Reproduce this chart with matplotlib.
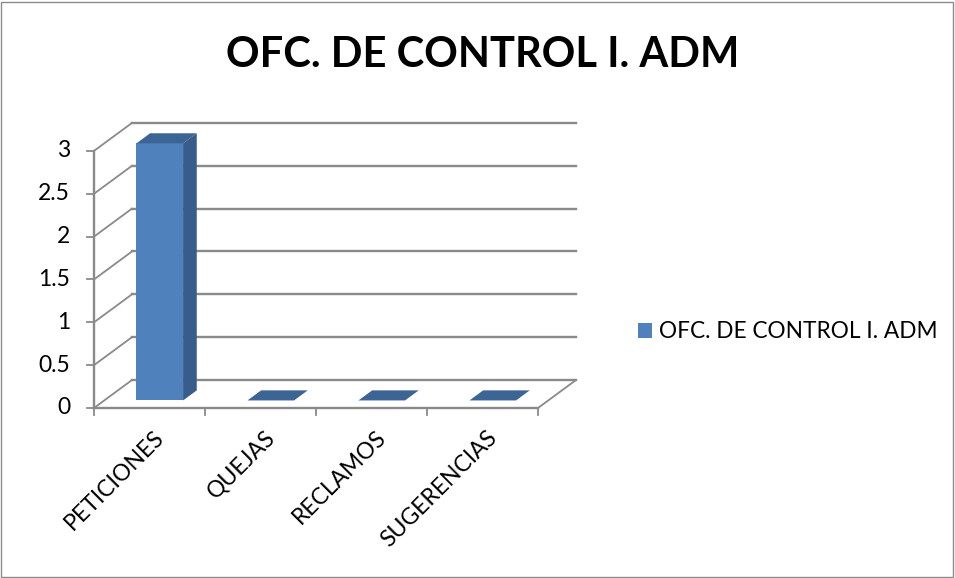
import matplotlib.pyplot as plt
from matplotlib.patches import Polygon, Rectangle

plt.rcParams['font.family'] = ['Lato', 'DejaVu Sans']

# datos
categorias = ["PETICIONES", "QUEJAS", "RECLAMOS", "SUGERENCIAS"]
valores = [3, 0, 0, 0]
serie = "OFC. DE CONTROL I. ADM"
y_ticks = [0, 0.5, 1, 1.5, 2, 2.5, 3]
y_labels = ["0", "0.5", "1", "1.5", "2", "2.5", "3"]

# escala: 1 categoria = 111 px, 1 unidad = 85.7 px, origen en (94, 408)
PX_X, PX_Y = 111.0, 85.7
X0, Y0 = 94.0, 408.0
W, H = 955, 578
DX, DY = 38 / PX_X, 28 / PX_Y      # profundidad de la pared
n = len(categorias)
ymax = y_ticks[-1]

fig = plt.figure(figsize=(W / 100, H / 100), dpi=100)
ax = fig.add_axes([0, 0, 1, 1])
ax.set_xlim(-X0 / PX_X, (W - X0) / PX_X)
ax.set_ylim((Y0 - H) / PX_Y, Y0 / PX_Y)
ax.axis('off')

grid = '#8a8a8a'
# pared trasera y lateral
for v in y_ticks:
    ax.plot([DX, n + DX], [v + DY, v + DY], color=grid, lw=1.7, zorder=1)
    ax.plot([0, DX], [v, v], color=grid, lw=0, zorder=1)
    ax.plot([0, DX], [v, v + DY], color=grid, lw=1.3, zorder=1)
    ax.plot([-0.065, 0], [v, v], color=grid, lw=1.3, zorder=1)
# piso
ax.plot([0, n], [0, 0], color=grid, lw=1.7, zorder=1)
ax.plot([n, n + DX], [0, DY], color=grid, lw=1.3, zorder=1)
ax.plot([0, 0], [0, ymax], color=grid, lw=1.7, zorder=1)
for i in range(n + 1):
    ax.plot([i, i], [0, -0.08], color=grid, lw=1.3, zorder=1)

# barras 3D
ancho = 0.42
d0, prof = 0.27, 0.36
ox, oy = d0 * DX, d0 * DY
bx, by = prof * DX, prof * DY
pos = [i + 0.5 for i in range(n)]
ax.bar([p + ox for p in pos], valores, ancho, bottom=oy,
       color='#4f81bd', edgecolor='none', zorder=3)
for p, v in zip(pos, valores):
    l, r = p + ox - ancho / 2, p + ox + ancho / 2
    if v > 0:
        ax.add_patch(Polygon([(r, oy), (r, v + oy), (r + bx, v + oy + by), (r + bx, oy + by)],
                             closed=True, facecolor='#375d8b', edgecolor='none', zorder=3))
    ax.add_patch(Polygon([(l, v + oy), (r, v + oy), (r + bx, v + oy + by), (l + bx, v + oy + by)],
                         closed=True, facecolor='#3c6595', edgecolor='none', zorder=3))

# etiquetas
for v, t in zip(y_ticks, y_labels):
    ax.text(-24 / PX_X, v, t, ha='right', va='center', fontsize=16.5, color='black')
for p, c in zip(pos, categorias):
    ax.text(p + 0.03, -0.22, c, rotation=45, rotation_mode='anchor',
            ha='right', va='top', fontsize=16.5, color='black')

fig.text(483 / W, 1 - 55 / H, serie, ha='center', va='center',
         fontsize=30, fontweight='bold', color='black')

# leyenda
fig.patches.append(Rectangle((638 / W, 1 - 338 / H), 14 / W, 15 / H,
                             transform=fig.transFigure, facecolor='#4f81bd',
                             edgecolor='none'))
fig.text(659 / W, 1 - 331 / H, serie, ha='left', va='center', fontsize=16.3)

# marco
fig.patches.append(Rectangle((1 / W, 1 / H), 1 - 3 / W, 1 - 3 / H,
                             transform=fig.transFigure, fill=False,
                             edgecolor='#8c8c8c', lw=1))

plt.savefig('out.png', dpi=100)
